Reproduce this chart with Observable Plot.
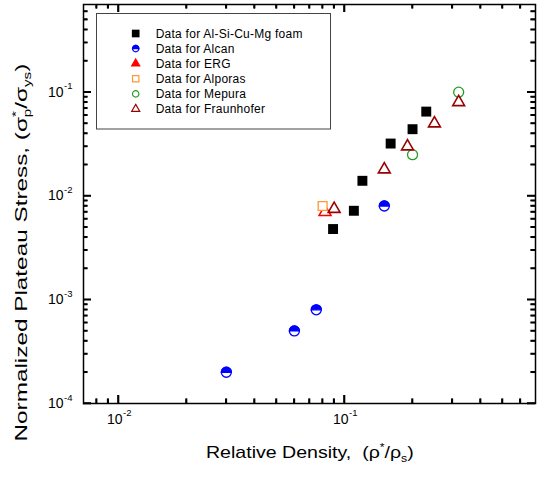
<!DOCTYPE html>
<html><head><meta charset="utf-8">
<script src="https://cdn.jsdelivr.net/npm/d3@7"></script>
<script src="https://cdn.jsdelivr.net/npm/@observablehq/plot@0.6"></script>
<style>body{margin:0;background:#fff;} svg{display:block}</style>
</head><body><div id="chart"></div>
<script>
// ---- data ----
const seriesNames = ["Data for Al-Si-Cu-Mg foam", "Data for Alcan", "Data for ERG", "Data for Alporas", "Data for Mepura", "Data for Fraunhofer"];
const alSiDensity = [0.089, 0.11, 0.12, 0.16, 0.2, 0.23];
const alSiStress = [0.0048, 0.0072, 0.014, 0.032, 0.044, 0.065];
const alcanDensity = [0.03, 0.06, 0.075, 0.15];
const alcanStress = [0.0002, 0.0005, 0.0008, 0.008];
const ergDensity = [0.082];
const ergStress = [0.007];
const alporasDensity = [0.08];
const alporasStress = [0.008];
const mepuraDensity = [0.2, 0.32];
const mepuraStress = [0.025, 0.1];
const fraunDensity = [0.09, 0.15, 0.19, 0.25, 0.32];
const fraunStress = [0.0075, 0.018, 0.03, 0.05, 0.08];

const xMajorTicks = [0.01, 0.1];
const xTickExponents = ["-2", "-1"];
const xMinorTicks = [0.008, 0.009, 0.02, 0.03, 0.04, 0.05, 0.06, 0.07, 0.08, 0.09, 0.2, 0.3, 0.4, 0.5, 0.6];
const yMajorTicks = [1e-4, 1e-3, 1e-2, 1e-1];
const yTickExponents = ["-4", "-3", "-2", "-1"];
const yMinorTicks = [2e-4, 3e-4, 4e-4, 5e-4, 6e-4, 7e-4, 8e-4, 9e-4,
  2e-3, 3e-3, 4e-3, 5e-3, 6e-3, 7e-3, 8e-3, 9e-3,
  2e-2, 3e-2, 4e-2, 5e-2, 6e-2, 7e-2, 8e-2, 9e-2,
  0.2, 0.3, 0.4, 0.5, 0.6];

const colors = {alsi: "black", alcan: "#0000ff", erg: "#ff0000", alporas: "#ff9933", mepura: "#22a022", fraun: "#990000"};

// ---- helpers ----
const rows = (xs, ys) => xs.map((x, i) => ({x, y: ys[i]}));
const topHalf = {draw(ctx, size) { const r = Math.sqrt(size / Math.PI); ctx.moveTo(r, 0); ctx.arc(0, 0, r, 0, Math.PI, true); ctx.closePath(); }};
const font = "'Liberation Sans', Arial, Helvetica, sans-serif";
const M = {top: 4, right: 11, bottom: 75, left: 83};
const W = 546, H = 478;
const xDom = [0.007, 0.7], yDom = [1e-4, 0.7];
const MAJ = 8, MIN = 4.5;
const ppdX = (W - M.left - M.right) / Math.log10(xDom[1] / xDom[0]);
const ppdY = (H - M.top - M.bottom) / Math.log10(yDom[1] / yDom[0]);
const shift = (v, px, ppd) => v * Math.pow(10, px / ppd);
const ruleStyle = {stroke: "#000", strokeWidth: 1.6};
const xTicks = (ticks, len) => [
  Plot.ruleX(ticks, {x: d => d, y1: () => yDom[0], y2: () => shift(yDom[0], len, ppdY), ...ruleStyle}),
  Plot.ruleX(ticks, {x: d => d, y1: () => yDom[1], y2: () => shift(yDom[1], -len, ppdY), ...ruleStyle})
];
const yTicks = (ticks, len) => [
  Plot.ruleY(ticks, {y: d => d, x1: () => xDom[0], x2: () => shift(xDom[0], len, ppdX), ...ruleStyle}),
  Plot.ruleY(ticks, {y: d => d, x1: () => xDom[1], x2: () => shift(xDom[1], -len, ppdX), ...ruleStyle})
];

const plot = Plot.plot({
  width: W, height: H,
  marginLeft: M.left, marginRight: M.right, marginTop: M.top, marginBottom: M.bottom,
  style: {fontFamily: font},
  x: {type: "log", domain: xDom, axis: null},
  y: {type: "log", domain: yDom, axis: null},
  marks: [
    Plot.frame({stroke: "#000", fill: "none", strokeWidth: 1.5}),
    ...xTicks(xMinorTicks, MIN), ...xTicks(xMajorTicks, MAJ),
    ...yTicks(yMinorTicks, MIN), ...yTicks(yMajorTicks, MAJ),
    // tick labels
    Plot.text(xMajorTicks, {x: d => d, frameAnchor: "bottom", text: () => "10", textAnchor: "end", dx: 4, dy: 20, fontSize: 14, fill: "black"}),
    Plot.text(xMajorTicks, {x: d => d, frameAnchor: "bottom", text: (d, i) => xTickExponents[i], textAnchor: "start", dx: 4.5, dy: 12.5, fontSize: 9.5, fill: "black"}),
    Plot.text(yMajorTicks, {y: d => d, frameAnchor: "left", text: () => "10", textAnchor: "end", dx: -20, dy: 0, fontSize: 14, fill: "black"}),
    Plot.text(yMajorTicks, {y: d => d, frameAnchor: "left", text: (d, i) => yTickExponents[i], textAnchor: "start", dx: -19.5, dy: -6, fontSize: 9.5, fill: "black"}),
    // data
    Plot.dot(rows(alSiDensity, alSiStress), {x: "x", y: "y", symbol: "square", r: 5.6, fill: colors.alsi, stroke: null}),
    Plot.dot(rows(alcanDensity, alcanStress), {x: "x", y: "y", symbol: "circle", r: 5, fill: "white", stroke: colors.alcan, strokeWidth: 1.3}),
    Plot.dot(rows(alcanDensity, alcanStress), {x: "x", y: "y", symbol: topHalf, r: 5, fill: colors.alcan, stroke: colors.alcan, strokeWidth: 1.3}),
    Plot.dot(rows(ergDensity, ergStress), {x: "x", y: "y", symbol: "triangle", r: 4.4, fill: "white", stroke: colors.erg, strokeWidth: 1.6}),
    Plot.dot(rows(alporasDensity, alporasStress), {x: "x", y: "y", symbol: "square", r: 5, fill: "white", stroke: colors.alporas, strokeWidth: 1.3}),
    Plot.dot(rows(mepuraDensity, mepuraStress), {x: "x", y: "y", symbol: "circle", r: 5, fill: "white", stroke: colors.mepura, strokeWidth: 1.3}),
    Plot.dot(rows(fraunDensity, fraunStress), {x: "x", y: "y", symbol: "triangle", r: 4.4, fill: "white", stroke: colors.fraun, strokeWidth: 1.6})
  ]
});

document.getElementById("chart").appendChild(plot);
const svg = d3.select(plot);

// axis titles with super/subscripts (stretched along their direction like the original)
const xl = svg.append("text").attr("font-size", 16).attr("fill", "black")
  .attr("text-anchor", "start").style("white-space", "pre");
xl.append("tspan").text("Relative Density,  (ρ");
xl.append("tspan").attr("font-size", 10).attr("dy", -7).text("*");
xl.append("tspan").attr("dy", 7).text("/ρ");
xl.append("tspan").attr("font-size", 10).attr("dy", 4).text("s");
xl.append("tspan").attr("dy", -4).text(")");
const xw = xl.node().getBBox().width;
xl.attr("transform", `translate(206,458) scale(${208 / xw},1)`);

const yl = svg.append("text").attr("font-size", 16).attr("fill", "black")
  .attr("text-anchor", "start").style("white-space", "pre");
yl.append("tspan").text("Normalized Plateau Stress, (σ");
yl.append("tspan").attr("font-size", 10).attr("dy", -7).text("*");
yl.append("tspan").attr("font-size", 10).attr("dx", -4).attr("dy", 11).text("p");
yl.append("tspan").attr("dy", -4).text("/σ");
yl.append("tspan").attr("font-size", 10).attr("dy", 4).text("ys");
yl.append("tspan").attr("dy", -4).text(")");
const yw = yl.node().getBBox().width;
yl.attr("transform", `translate(26.5,441.5) rotate(-90) scale(${378 / yw},1)`);

// legend
const legendSymbols = [
  [{type: d3.symbolSquare, size: 59, fill: colors.alsi, stroke: "none"}],
  [{type: d3.symbolCircle, size: 32, fill: "white", stroke: colors.alcan}, {type: topHalf, size: 32, fill: colors.alcan, stroke: colors.alcan}],
  [{type: d3.symbolTriangle, size: 28, fill: colors.erg, stroke: colors.erg}],
  [{type: d3.symbolSquare, size: 40, fill: "white", stroke: colors.alporas}],
  [{type: d3.symbolCircle, size: 32, fill: "white", stroke: colors.mepura}],
  [{type: d3.symbolTriangle, size: 28, fill: "white", stroke: colors.fraun}]
];
const lg = svg.append("g");
lg.append("rect").attr("x", 96.5).attr("y", 13.5).attr("width", 234).attr("height", 115.5)
  .attr("fill", "white").attr("stroke", "#444").attr("stroke-width", 1);
seriesNames.forEach((name, i) => {
  const cy = 33.5 + i * 15.1;
  legendSymbols[i].forEach(s => {
    lg.append("path").attr("transform", `translate(135.7,${cy})`)
      .attr("d", d3.symbol().type(s.type).size(s.size)())
      .attr("fill", s.fill).attr("stroke", s.stroke).attr("stroke-width", 1.2);
  });
  lg.append("text").attr("x", 155.7).attr("y", cy).attr("dy", "0.36em").attr("text-anchor", "start")
    .attr("font-size", 12).attr("letter-spacing", 0.25).attr("fill", "black").text(name);
});

// inward ticks again as one path on top, positioned with Plot's scales (d3 log scale as fallback)
const sxp = plot.scale("x"), syp = plot.scale("y");
const fbx = d3.scaleLog().domain(xDom).range([M.left, W - M.right]);
const fby = d3.scaleLog().domain(yDom).range([H - M.bottom, M.top]);
const px = v => { const p = sxp && sxp.apply ? sxp.apply(v) : NaN; return isFinite(p) ? p : fbx(v); };
const py = v => { const p = syp && syp.apply ? syp.apply(v) : NaN; return isFinite(p) ? p : fby(v); };
const L = M.left, R = W - M.right, T = M.top, B = H - M.bottom;
let d = "";
const addX = (ticks, len) => ticks.forEach(t => { const x = px(t).toFixed(2); d += `M${x},${B}V${B - len}M${x},${T}V${T + len}`; });
const addY = (ticks, len) => ticks.forEach(t => { const y = py(t).toFixed(2); d += `M${L},${y}H${L + len}M${R},${y}H${R - len}`; });
addX(xMinorTicks, MIN); addX(xMajorTicks, MAJ);
addY(yMinorTicks, MIN); addY(yMajorTicks, MAJ);
svg.append("path").attr("d", d).attr("fill", "none").attr("stroke", "#000").attr("stroke-width", 1.6);
</script>
</body></html>
